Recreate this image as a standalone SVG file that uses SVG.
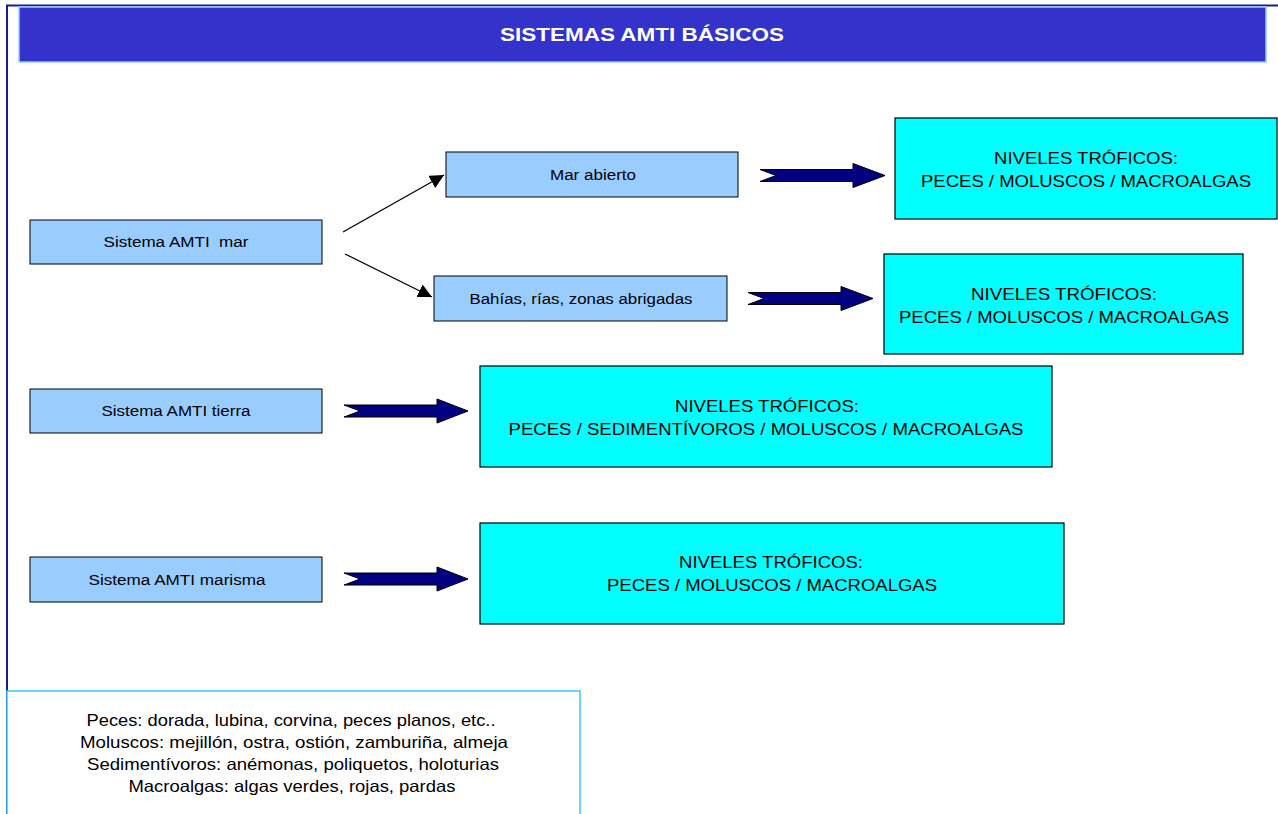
<svg xmlns="http://www.w3.org/2000/svg" width="1278" height="814" viewBox="0 0 1278 814">
<style>
.t{font-family:"Liberation Sans",Arial,sans-serif;fill:#000;text-anchor:middle}
.s{font-size:15.5px}
.b{font-size:17px}
.lg{font-size:16.5px}
.lb{fill:#99CCFF;stroke:#000;stroke-width:1}
.cy{fill:#00FFFF;stroke:#000;stroke-width:1.2}
.blk{fill:#000080;stroke:#000;stroke-width:1}
.thin{stroke:#000;stroke-width:1.3;fill:none}
</style>
<defs>
<marker id="ah" viewBox="0 0 10 10" refX="10" refY="5" markerWidth="14" markerHeight="14" markerUnits="userSpaceOnUse" orient="auto">
<path d="M0,0 L10,5 L0,10 z" fill="#000"/>
</marker>
</defs>
<rect width="1278" height="814" fill="#fff"/>
<g id="frame">
<line x1="6" y1="5.5" x2="1278" y2="5.5" stroke="#1a1a99" stroke-width="2"/>
<line x1="7" y1="5" x2="7" y2="814" stroke="#1a1a99" stroke-width="2"/>
</g>
<g id="title">
<rect x="19" y="7" width="1247" height="55" fill="#3333CC" stroke="#99CCFF" stroke-width="1.5"/>
<text class="t" x="642" y="41" font-size="19" font-weight="bold" style="fill:#fff" textLength="284" lengthAdjust="spacingAndGlyphs">SISTEMAS AMTI BÁSICOS</text>
</g>
<g id="n-mar"><rect class="lb" x="30" y="220" width="292" height="44"/><text class="t s" x="176" y="247" textLength="145" lengthAdjust="spacingAndGlyphs" xml:space="preserve">Sistema AMTI  mar</text></g>
<g id="n-abierto"><rect class="lb" x="446" y="152" width="292" height="45"/><text class="t s" x="593" y="180" textLength="86" lengthAdjust="spacingAndGlyphs">Mar abierto</text></g>
<g id="n-bahias"><rect class="lb" x="434" y="276" width="293" height="45"/><text class="t s" x="581" y="304" textLength="223" lengthAdjust="spacingAndGlyphs">Bahías, rías, zonas abrigadas</text></g>
<g id="n-tierra"><rect class="lb" x="30" y="389" width="292" height="44"/><text class="t s" x="176" y="416" textLength="149" lengthAdjust="spacingAndGlyphs">Sistema AMTI tierra</text></g>
<g id="n-marisma"><rect class="lb" x="30" y="557" width="292" height="45"/><text class="t s" x="177" y="585" textLength="177" lengthAdjust="spacingAndGlyphs">Sistema AMTI marisma</text></g>
<g id="c1"><rect class="cy" x="895" y="118" width="382" height="101"/><text class="t b" x="1086" y="164" textLength="184" lengthAdjust="spacingAndGlyphs">NIVELES TRÓFICOS:</text><text class="t b" x="1086" y="187" textLength="330" lengthAdjust="spacingAndGlyphs">PECES / MOLUSCOS / MACROALGAS</text></g>
<g id="c2"><rect class="cy" x="884" y="254" width="359" height="100"/><text class="t b" x="1064" y="300" textLength="186" lengthAdjust="spacingAndGlyphs">NIVELES TRÓFICOS:</text><text class="t b" x="1064" y="323" textLength="330" lengthAdjust="spacingAndGlyphs">PECES / MOLUSCOS / MACROALGAS</text></g>
<g id="c3"><rect class="cy" x="480" y="366" width="572" height="101"/><text class="t b" x="767" y="412" textLength="184" lengthAdjust="spacingAndGlyphs">NIVELES TRÓFICOS:</text><text class="t b" x="766" y="435" textLength="515" lengthAdjust="spacingAndGlyphs">PECES / SEDIMENTÍVOROS / MOLUSCOS / MACROALGAS</text></g>
<g id="c4"><rect class="cy" x="480" y="523" width="584" height="101"/><text class="t b" x="771" y="568" textLength="184" lengthAdjust="spacingAndGlyphs">NIVELES TRÓFICOS:</text><text class="t b" x="772" y="591" textLength="330" lengthAdjust="spacingAndGlyphs">PECES / MOLUSCOS / MACROALGAS</text></g>
<g id="legend"><rect x="7" y="691" width="573" height="130" fill="#fff" stroke="#33CCFF" stroke-width="1.5"/>
<text class="t lg" x="291" y="726" textLength="409" lengthAdjust="spacingAndGlyphs">Peces: dorada, lubina, corvina, peces planos, etc..</text>
<text class="t lg" x="294" y="748" textLength="428" lengthAdjust="spacingAndGlyphs">Moluscos: mejillón, ostra, ostión, zamburiña, almeja</text>
<text class="t lg" x="293" y="770" textLength="412" lengthAdjust="spacingAndGlyphs">Sedimentívoros: anémonas, poliquetos, holoturias</text>
<text class="t lg" x="292" y="792" textLength="327" lengthAdjust="spacingAndGlyphs">Macroalgas: algas verdes, rojas, pardas</text>
</g>
<g id="connectors">
<line class="thin" x1="343" y1="232" x2="444" y2="175" marker-end="url(#ah)"/>
<line class="thin" x1="345" y1="254" x2="432" y2="297" marker-end="url(#ah)"/>
<path class="blk" d="M760,169.5 L776,175.5 L760,181.5 L853,181.5 L853,187.5 L885,175.5 L853,163.5 L853,169.5 z"/>
<path class="blk" d="M748,292.5 L764,298.5 L748,304.5 L841,304.5 L841,310.5 L873,298.5 L841,286.5 L841,292.5 z"/>
<path class="blk" d="M344,405 L360,411 L344,417 L437,417 L437,423 L468,411 L437,399 L437,405 z"/>
<path class="blk" d="M344,573 L360,579 L344,585 L437,585 L437,591 L468,579 L437,567 L437,573 z"/>
</g>
</svg>
